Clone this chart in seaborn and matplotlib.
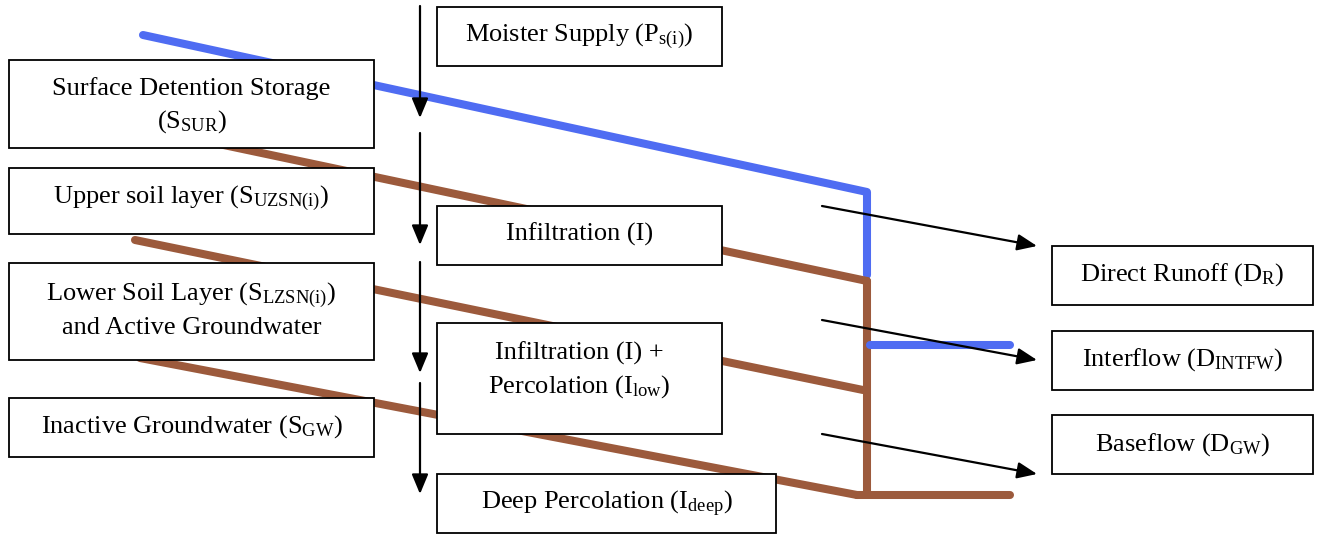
import matplotlib
matplotlib.use("Agg")
import matplotlib.pyplot as plt
import seaborn as sns
import pandas as pd
from matplotlib.patches import Rectangle

# storage / flux labels (left column, middle column, right column)
store_labels = [
    "Surface Detention Storage\n($\\mathrm{S_{SUR}}$)",
    "Upper soil layer ($\\mathrm{S_{UZSN(i)}}$)",
    "Lower Soil Layer ($\\mathrm{S_{LZSN(i)}}$)\nand Active Groundwater",
    "Inactive Groundwater ($\\mathrm{S_{GW}}$)",
]
flux_labels = [
    "Moister Supply ($\\mathrm{P_{s(i)}}$)",
    "Infiltration (I)",
    "Infiltration (I) +\nPercolation ($\\mathrm{I_{low}}$)",
    "Deep Percolation ($\\mathrm{I_{deep}}$)",
]
outflow_labels = [
    "Direct Runoff ($\\mathrm{D_R}$)",
    "Interflow ($\\mathrm{D_{INTFW}}$)",
    "Baseflow ($\\mathrm{D_{GW}}$)",
]

# flow paths drawn as polylines (pixel space of the diagram)
surface_flow_x = [143, 867, 867]
surface_flow_y = [35, 192, 275]
interflow_x = [870, 1010]
interflow_y = [345, 345]
soil_line1_x = [200, 867]
soil_line1_y = [140, 281]
soil_line2_x = [135, 863]
soil_line2_y = [240, 390]
soil_line3_x = [140, 857]
soil_line3_y = [358, 495]
drain_x = [867, 867]
drain_y = [281, 495]
base_x = [857, 1010]
base_y = [495, 495]

# boxes: x0, y0, x1, y1 and text centre y
store_boxes = [(9, 60, 374, 148), (9, 168, 374, 234), (9, 263, 374, 360), (9, 398, 374, 457)]
store_text_y = [106, 198, 310, 427]
flux_boxes = [(437, 7, 722, 66), (437, 206, 722, 265), (437, 323, 722, 434), (437, 474, 776, 533)]
flux_text_y = [36, 234, 371, 504]
outflow_boxes = [(1052, 246, 1313, 305), (1052, 331, 1313, 390), (1052, 415, 1313, 474)]
outflow_text_y = [275, 360, 445]

# vertical downward arrows and diagonal outflow arrows
down_x = 420
down_start = [6, 133, 262, 383]
down_tip = [118, 245, 373, 494]
out_start = [(822, 206), (822, 320), (822, 434)]
out_tip = [(1037, 246), (1037, 360), (1037, 474)]

BLUE = "#4F6CF2"
BROWN = "#9C5A3C"

sns.set_style("white")
plt.rcParams["font.family"] = ["Liberation Serif", "DejaVu Serif"]
plt.rcParams["mathtext.fontset"] = "custom"
plt.rcParams["mathtext.rm"] = "Liberation Serif"
plt.rcParams["mathtext.it"] = "Liberation Serif:italic"

fig = plt.figure(figsize=(13.24, 5.36), dpi=100)
ax = fig.add_axes([0, 0, 1, 1])

paths = [
    (surface_flow_x, surface_flow_y, BLUE),
    (soil_line1_x, soil_line1_y, BROWN),
    (soil_line2_x, soil_line2_y, BROWN),
    (soil_line3_x, soil_line3_y, BROWN),
    (drain_x, drain_y, BROWN),
    (base_x, base_y, BROWN),
    (interflow_x, interflow_y, BLUE),
]
for xs, ys, col in paths:
    df = pd.DataFrame({"x": xs, "y": ys})
    sns.lineplot(data=df, x="x", y="y", sort=False, estimator=None, color=col, lw=5.8,
                 solid_capstyle="round", solid_joinstyle="round", ax=ax, zorder=2)

for boxes, labels, ty in [(store_boxes, store_labels, store_text_y),
                          (flux_boxes, flux_labels, flux_text_y),
                          (outflow_boxes, outflow_labels, outflow_text_y)]:
    for (x0, y0, x1, y1), lab, y in zip(boxes, labels, ty):
        ax.add_patch(Rectangle((x0, y0), x1 - x0, y1 - y0, facecolor="white",
                               edgecolor="black", lw=1.3, zorder=3))
        ax.text((x0 + x1) / 2, y, lab, ha="center", va="center", fontsize=19,
                linespacing=1.4, zorder=5, color="black")

arrow_kw = dict(arrowstyle="-|>,head_length=0.6,head_width=0.25", mutation_scale=20,
                lw=1.6, color="black", shrinkA=0, shrinkB=0)
for s, t in zip(down_start, down_tip):
    ax.annotate("", xy=(down_x, t), xytext=(down_x, s), arrowprops=arrow_kw, zorder=4)
for s, t in zip(out_start, out_tip):
    ax.annotate("", xy=t, xytext=s, arrowprops=arrow_kw, zorder=4)

ax.set_xlim(0, 1324)
ax.set_ylim(536, 0)
ax.axis("off")
fig.savefig("out.png", dpi=100, facecolor="white")
